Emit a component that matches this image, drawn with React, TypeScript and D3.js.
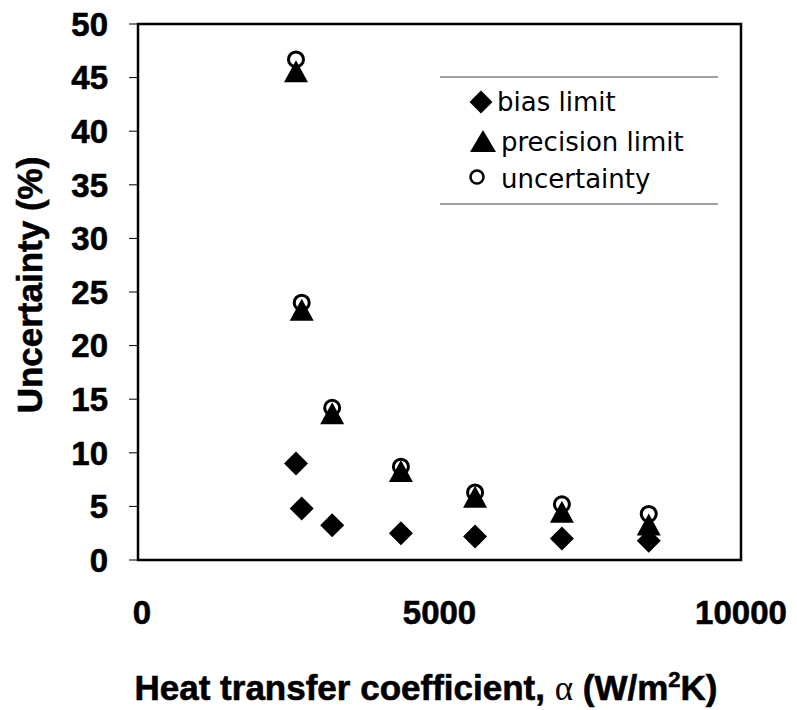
import React from "react";
import * as d3 from "d3";

const xValues = [2620, 2715, 3220, 4360, 5590, 7030, 8470];
const biasLimit = [9.0, 4.8, 3.25, 2.5, 2.2, 2.0, 1.8];
const precisionLimit = [45.6, 23.35, 13.7, 8.3, 5.9, 4.5, 3.3];
const uncertainty = [46.7, 24.0, 14.2, 8.7, 6.3, 5.2, 4.3];
const yTicks = [0, 5, 10, 15, 20, 25, 30, 35, 40, 45, 50];
const xTicks = [0, 5000, 10000];
const legendLabels = ["bias limit", "precision limit", "uncertainty"];

const W = 797;
const H = 710;
const x = d3.scaleLinear().domain([0, 10000]).range([138, 741]);
const y = d3.scaleLinear().domain([0, 50]).range([560, 24]);

const diamondPath = (r: number) => `M0,${-r}L${r},0L0,${r}L${-r},0Z`;
const trianglePath = (w: number, h: number) =>
  `M0,${-h / 2}L${w / 2},${h / 2}L${-w / 2},${h / 2}Z`;

const Diamond = ({ cx, cy, r = 12 }: any) => (
  <path d={diamondPath(r)} transform={`translate(${cx},${cy})`} fill="#000" />
);
const Triangle = ({ cx, cy, w = 24, h = 22 }: any) => (
  <path d={trianglePath(w, h)} transform={`translate(${cx},${cy})`} fill="#000" />
);
const Ring = ({ cx, cy, r = 7.5, sw = 3 }: any) => (
  <circle cx={cx} cy={cy} r={r} fill="none" stroke="#000" strokeWidth={sw} />
);

export default function App() {
  const bold = "'Liberation Sans', Arial, sans-serif";
  const heavy = { stroke: "#000", strokeWidth: 0.6 };
  return (
    <svg
      width={W}
      height={H}
      viewBox={`0 0 ${W} ${H}`}
      style={{ position: "absolute", left: 0, top: 0, background: "#fff" }}
    >
      <rect x={0} y={0} width={W} height={H} fill="#fff" />
      {/* y ticks */}
      {yTicks.map((t) => (
        <g key={t}>
          <line x1={129} x2={138} y1={y(t)} y2={y(t)} stroke="#000" strokeWidth={1} />
          <text
            x={108}
            y={y(t)}
            dy="0.36em"
            textAnchor="end"
            fontFamily={bold}
            fontWeight="bold"
            fontSize={33}
            {...heavy}
          >
            {t}
          </text>
        </g>
      ))}
      {/* x tick labels */}
      {xTicks.map((t) => (
        <text
          key={t}
          x={x(t) + (t === 0 ? 4 : 0)}
          y={624}
          textAnchor="middle"
          fontFamily={bold}
          fontWeight="bold"
          fontSize={33}
          {...heavy}
        >
          {t}
        </text>
      ))}
      {/* frame */}
      <rect
        x={x(0)}
        y={y(50)}
        width={x(10000) - x(0)}
        height={y(0) - y(50)}
        fill="none"
        stroke="#000"
        strokeWidth={2.5}
      />
      {/* data */}
      {xValues.map((xv, i) => (
        <Diamond key={"d" + i} cx={x(xv)} cy={y(biasLimit[i])} />
      ))}
      {xValues.map((xv, i) => (
        <Triangle key={"t" + i} cx={x(xv)} cy={y(precisionLimit[i])} />
      ))}
      {xValues.map((xv, i) => (
        <Ring key={"c" + i} cx={x(xv)} cy={y(uncertainty[i])} />
      ))}
      {/* legend */}
      <line x1={440} x2={718} y1={77} y2={77} stroke="#444" strokeWidth={1} />
      <line x1={440} x2={718} y1={204} y2={204} stroke="#444" strokeWidth={1} />
      <Diamond cx={481} cy={102} r={11.5} />
      <Triangle cx={483} cy={141} w={26} h={22} />
      <Ring cx={477} cy={177} r={6.5} sw={2.5} />
      {legendLabels.map((l, i) => (
        <text
          key={l}
          x={i === 0 ? 497 : 501}
          y={[111, 151, 188][i]}
          fontFamily="'DejaVu Sans', sans-serif"
          fontSize={26}
        >
          {l}
        </text>
      ))}
      {/* axis titles */}
      <text
        transform="translate(42,285) rotate(-90)"
        textAnchor="middle"
        fontFamily={bold}
        fontWeight="bold"
        fontSize={35}
        {...heavy}
      >
        Uncertainty (%)
      </text>
      <text
        x={426}
        y={700}
        textAnchor="middle"
        fontFamily={bold}
        fontWeight="bold"
        fontSize={35}
        {...heavy}
      >
        <tspan>Heat transfer coefficient, </tspan>
        <tspan fontFamily="'Liberation Serif', serif" fontWeight="normal" strokeWidth={0}>
          α
        </tspan>
        <tspan> (W/m</tspan>
        <tspan fontSize={22} dy={-13}>
          2
        </tspan>
        <tspan dy={13}>K)</tspan>
      </text>
    </svg>
  );
}
